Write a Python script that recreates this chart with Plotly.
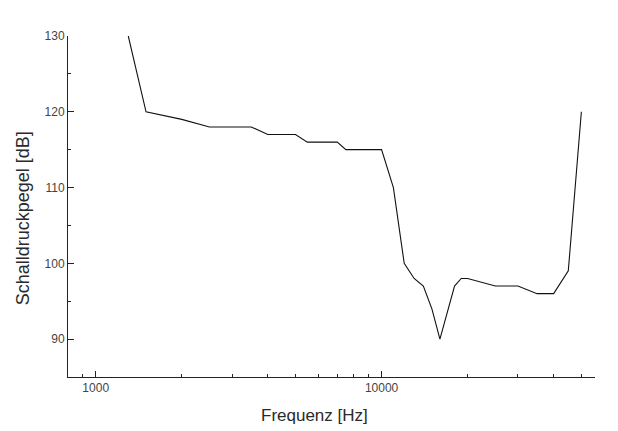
import math
import plotly.graph_objects as go

freq_hz = [1300, 1500, 2000, 2500, 3500, 4000, 5000, 5500, 7000, 7500, 10000,
           11000, 12000, 13000, 14000, 15000, 16000, 18000, 19000, 20000,
           25000, 30000, 35000, 40000, 45000, 50000]
level_db = [130, 120, 119, 118, 118, 117, 117, 116, 116, 115, 115,
            110, 100, 98, 97, 94, 90, 97, 98, 98,
            97, 97, 96, 96, 99, 120]

x_major = [1000, 10000]
x_minor = [900, 2000, 3000, 4000, 5000, 6000, 7000, 8000, 9000,
           20000, 30000, 40000, 50000]
y_major = [90, 100, 110, 120, 130]
y_minor = [95, 105, 115, 125]

x_title = "Frequenz [Hz]"
y_title = "Schalldruckpegel [dB]"

font_family = "Liberation Sans, Arial, sans-serif"

fig = go.Figure()
fig.add_trace(go.Scatter(x=freq_hz, y=level_db, mode="lines",
                         line=dict(color="#111111", width=1.1),
                         showlegend=False, hoverinfo="skip"))

# page body has an 8px margin, so the figure is sized/margined to compensate
fig.update_layout(
    width=610, height=423,
    margin=dict(l=60, r=23, t=28, b=54),
    paper_bgcolor="white", plot_bgcolor="white",
    font=dict(family=font_family, color="#444444", size=12),
    annotations=[
        dict(text=x_title, xref="paper", yref="paper", x=0.4668, y=-0.1116,
             xanchor="center", yanchor="middle", showarrow=False,
             font=dict(family=font_family, size=17, color="#2a2a2a")),
        dict(text=y_title, xref="paper", yref="paper", x=-0.0854, y=0.4655,
             xanchor="center", yanchor="middle", showarrow=False, textangle=-90,
             font=dict(family=font_family, size=18, color="#2a2a2a")),
    ],
)

fig.update_xaxes(
    type="log", range=[math.log10(800), math.log10(55800)],
    tickmode="array", tickvals=x_major, ticktext=[str(v) for v in x_major],
    ticks="inside", ticklen=6, tickcolor="#222222",
    showline=True, linecolor="#222222", linewidth=1,
    showgrid=False, zeroline=False,
    tickfont=dict(size=12, color="#444444"),
    minor=dict(tickmode="array", tickvals=x_minor, ticks="inside", ticklen=3,
               tickcolor="#222222", showgrid=False),
)
fig.update_yaxes(
    range=[85, 130],
    tickmode="array", tickvals=y_major, ticktext=[str(v) for v in y_major],
    ticks="inside", ticklen=6, tickcolor="#222222",
    showline=True, linecolor="#222222", linewidth=1,
    showgrid=False, zeroline=False,
    tickfont=dict(size=12, color="#444444"),
    minor=dict(tickmode="array", tickvals=y_minor, ticks="inside", ticklen=3,
               tickcolor="#222222", showgrid=False),
)

fig.write_html("out.html")
